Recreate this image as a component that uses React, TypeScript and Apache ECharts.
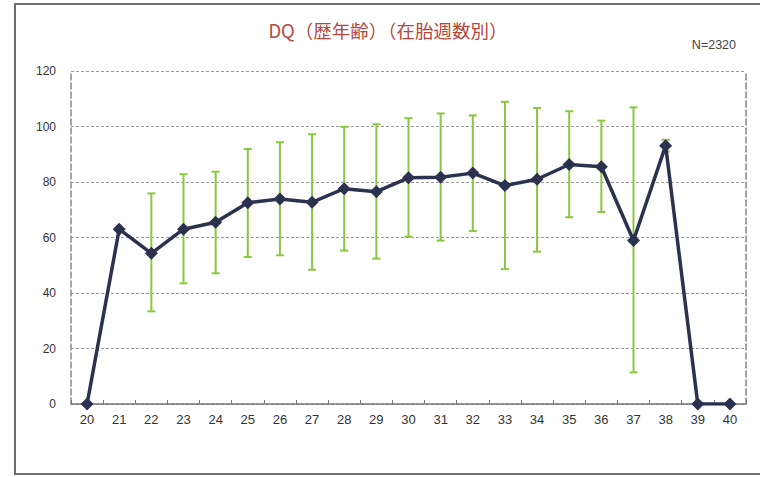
import React, { useEffect, useRef } from "react";
import * as echarts from "echarts";

const weeks = ["20","21","22","23","24","25","26","27","28","29","30","31","32","33","34","35","36","37","38","39","40"];
const dqMean = [0, 63, 54.3, 63, 65.5, 72.5, 73.9, 72.7, 77.6, 76.5, 81.5, 81.7, 83.2, 78.7, 81, 86.3, 85.5, 58.9, 93.1, 0, 0];
const errHigh = [null, null, 75.9, 82.8, 83.7, 91.9, 94.3, 97.2, 99.9, 100.8, 103, 104.7, 104, 108.9, 106.7, 105.5, 102.1, 106.9, 95.2, null, null];
const errLow = [null, null, 33.4, 43.5, 47.1, 53, 53.6, 48.4, 55.3, 52.4, 60.3, 58.9, 62.3, 48.6, 54.9, 67.3, 69.2, 11.4, 91, null, null];
const titleText = "DQ（歴年齢）（在胎週数別）";
const nText = "N=2320";

export default function App() {
  const ref = useRef<HTMLDivElement>(null);
  useEffect(() => {
    if (!ref.current) return;
    const chart = echarts.init(ref.current, null, { renderer: "svg" });
    const errData = weeks
      .map((_, i) => (errHigh[i] == null ? null : [i, errLow[i], errHigh[i]]))
      .filter((d) => d != null);
    chart.setOption({
      animation: false,
      backgroundColor: "#ffffff",
      graphic: [
        {
          type: "rect",
          shape: { x: 15, y: 4, width: 760, height: 470 },
          style: { fill: "none", stroke: "#6e6e6e", lineWidth: 2 },
          z: -1,
        },
        {
          type: "text",
          x: 388,
          y: 30,
          style: {
            text: titleText,
            fill: "#b5473c",
            font: "18.5px 'Noto Sans CJK JP', sans-serif",
            align: "center",
            verticalAlign: "middle",
          },
        },
        {
          type: "text",
          x: 736,
          y: 45,
          style: {
            text: nText,
            fill: "#444",
            font: "12.5px 'Liberation Sans', Arial, sans-serif",
            align: "right",
            verticalAlign: "middle",
          },
        },
      ],
      grid: { left: 71, right: 14, top: 71, bottom: 73 },
      xAxis: {
        type: "category",
        data: weeks,
        boundaryGap: true,
        axisLine: { lineStyle: { color: "#777", width: 1.5 } },
        axisTick: { show: true, inside: true, length: 4, lineStyle: { color: "#777" } },
        axisLabel: {
          color: "#333",
          fontSize: 13,
          margin: 9,
          fontFamily: "'Liberation Sans Narrow', 'Liberation Sans', sans-serif",
        },
      },
      yAxis: [
        {
          type: "value",
          min: 0,
          max: 120,
          interval: 20,
          axisLine: { show: true, lineStyle: { color: "#888", type: "dashed", width: 1.5 } },
          axisTick: { show: false },
          axisLabel: {
            color: "#333",
            fontSize: 12,
            margin: 15,
            fontFamily: "'Liberation Sans', Arial, sans-serif",
          },
          splitLine: { lineStyle: { color: "#999", type: [3, 2], width: 1 } },
        },
        {
          type: "value",
          position: "right",
          min: 0,
          max: 120,
          interval: 20,
          axisLine: { show: true, lineStyle: { color: "#888", type: "dashed", width: 1.5 } },
          axisTick: { show: false },
          axisLabel: { show: false },
          splitLine: { show: false },
        },
      ],
      series: [
        {
          type: "custom",
          z: 1,
          data: errData,
          renderItem: (params: any, api: any) => {
            const x = api.value(0);
            const lo = api.coord([x, api.value(1)]);
            const hi = api.coord([x, api.value(2)]);
            const cap = 4;
            const style = { stroke: "#8cc63e", lineWidth: 2 };
            return {
              type: "group",
              children: [
                { type: "line", shape: { x1: hi[0], y1: hi[1], x2: lo[0], y2: lo[1] }, style },
                { type: "line", shape: { x1: hi[0] - cap, y1: hi[1], x2: hi[0] + cap, y2: hi[1] }, style },
                { type: "line", shape: { x1: lo[0] - cap, y1: lo[1], x2: lo[0] + cap, y2: lo[1] }, style },
              ],
            };
          },
        },
        {
          type: "line",
          z: 3,
          data: dqMean,
          symbol: "diamond",
          symbolSize: 13,
          lineStyle: { color: "#2b3250", width: 3.5 },
          itemStyle: { color: "#2b3250" },
        },
      ],
    });
    return () => chart.dispose();
  }, []);
  return (
    <div
      ref={ref}
      style={{ position: "fixed", left: 0, top: 0, width: 760, height: 477, background: "#fff" }}
    />
  );
}
